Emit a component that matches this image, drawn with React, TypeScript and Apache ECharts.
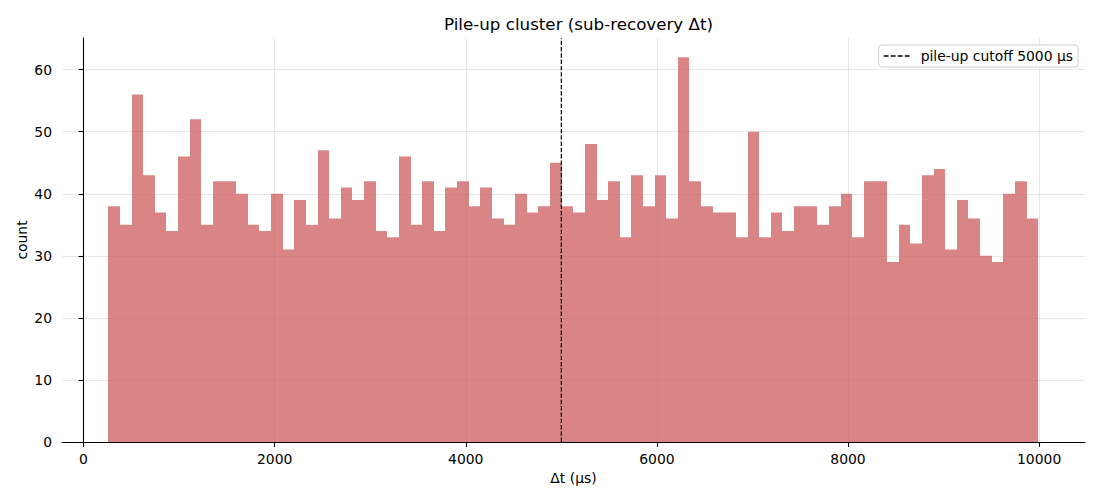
import React, { useEffect, useRef } from "react";
import * as echarts from "echarts";

// Histogram of sub-recovery Δt (µs), 80 equal-width bins
const binStart = 260;
const binEnd = 9990;
const counts = [
  38, 35, 56, 43, 37, 34, 46, 52, 35, 42,
  42, 40, 35, 34, 40, 31, 39, 35, 47, 36,
  41, 39, 42, 34, 33, 46, 35, 42, 34, 41,
  42, 38, 41, 36, 35, 40, 37, 38, 45, 38,
  37, 48, 39, 42, 33, 43, 38, 43, 36, 62,
  42, 38, 37, 37, 33, 50, 33, 37, 34, 38,
  38, 35, 38, 40, 33, 42, 42, 29, 35, 32,
  43, 44, 31, 39, 36, 30, 29, 40, 42, 36,
];
const cutoff = 5000;
const xTicks = [0, 2000, 4000, 6000, 8000, 10000];
const yTicks = [0, 10, 20, 30, 40, 50, 60];
const xMin = -225;
const xMax = 10480;
const yMax = 65.1;

const FONT = "DejaVu Sans";
const DASH_ICON =
  "path://M0,0h4.4v1.2h-4.4z M6.4,0h4.4v1.2h-4.4z M12.8,0h4.4v1.2h-4.4z M19.2,0h4.4v1.2h-4.4z";

export default function App() {
  const ref = useRef<HTMLDivElement>(null);

  useEffect(() => {
    if (!ref.current) return;
    const chart = echarts.init(ref.current, null, { renderer: "svg" });
    const w = (binEnd - binStart) / counts.length;
    const histData = counts.map((c, i) => [binStart + i * w, binStart + (i + 1) * w, c]);

    const option: any = {
      animation: false,
      backgroundColor: "#ffffff",
      textStyle: { fontFamily: FONT },
      title: {
        text: "Pile-up cluster (sub-recovery Δt)",
        left: 573.5,
        textAlign: "center",
        top: 10,
        textStyle: { fontFamily: FONT, fontSize: 16.7, fontWeight: "normal", color: "#000" },
      },
      legend: {
        right: 22,
        top: 45,
        orient: "vertical",
        padding: [4, 5, 4, 5],
        itemWidth: 26,
        itemHeight: 14,
        symbolKeepAspect: true,
        backgroundColor: "rgba(255,255,255,0.8)",
        borderColor: "#d0d0d0",
        borderWidth: 1,
        borderRadius: 3,
        itemStyle: { color: "#000" },
        textStyle: { fontFamily: FONT, fontSize: 13.9, color: "#000", padding: [0, 0, 0, 6] },
        data: [{ name: "pile-up cutoff 5000 µs", icon: DASH_ICON }],
      },
      graphic: [
        {
          type: "text",
          x: 22,
          y: 240,
          rotation: Math.PI / 2,
          style: {
            text: "count",
            fontFamily: FONT,
            fontSize: 13.9,
            fill: "#000",
            align: "center",
            verticalAlign: "middle",
          },
        },
      ],
      grid: { left: 62, right: 15, top: 38, bottom: 58, containLabel: false },
      xAxis: {
        type: "value",
        min: xMin,
        max: xMax,
        name: "Δt (µs)",
        nameLocation: "middle",
        nameGap: 29,
        nameTextStyle: { fontFamily: FONT, fontSize: 13.9, color: "#000" },
        axisLine: { show: true, onZero: false, lineStyle: { color: "#000", width: 1.1 } },
        axisTick: { show: true, length: 4.9, inside: false, lineStyle: { color: "#000", width: 1.1 }, customValues: xTicks },
        axisLabel: {
          fontFamily: FONT,
          fontSize: 13.9,
          color: "#000",
          margin: 10,
          customValues: xTicks,
          formatter: (v: number) => String(v),
        },
        splitLine: { show: true, lineStyle: { color: "rgba(176,176,176,0.3)", width: 1.1 } },
      },
      yAxis: {
        type: "value",
        min: 0,
        max: yMax,
        axisLine: { show: true, lineStyle: { color: "#000", width: 1.1 } },
        axisTick: { show: true, length: 4.9, inside: false, lineStyle: { color: "#000", width: 1.1 }, customValues: yTicks },
        axisLabel: {
          fontFamily: FONT,
          fontSize: 13.9,
          color: "#000",
          margin: 10,
          customValues: yTicks,
          formatter: (v: number) => String(v),
        },
        splitLine: { show: true, lineStyle: { color: "rgba(176,176,176,0.3)", width: 1.1 } },
      },
      series: [
        {
          type: "custom",
          name: "Δt histogram",
          data: histData,
          encode: { x: [0, 1], y: 2 },
          renderItem: (params: any, api: any) => {
            const p0 = api.coord([api.value(0), api.value(2)]);
            const p1 = api.coord([api.value(1), 0]);
            const x0 = Math.round(p0[0]);
            const x1 = Math.round(p1[0]);
            return {
              type: "rect",
              shape: { x: x0, y: p0[1], width: x1 - x0, height: p1[1] - p0[1] },
              style: { fill: "rgba(205,92,92,0.75)" },
            };
          },
          z: 2,
        },
        {
          type: "line",
          name: "pile-up cutoff 5000 µs",
          data: [[cutoff, 0], [cutoff, yMax]],
          symbol: "none",
          lineStyle: { color: "#000", width: 1.2, type: [4.4, 1.9] },
          itemStyle: { color: "#000" },
          z: 3,
        },
      ],
    };
    chart.setOption(option);
    return () => chart.dispose();
  }, []);

  return (
    <div
      ref={ref}
      style={{ position: "fixed", left: 0, top: 0, width: 1100, height: 500 }}
    />
  );
}
